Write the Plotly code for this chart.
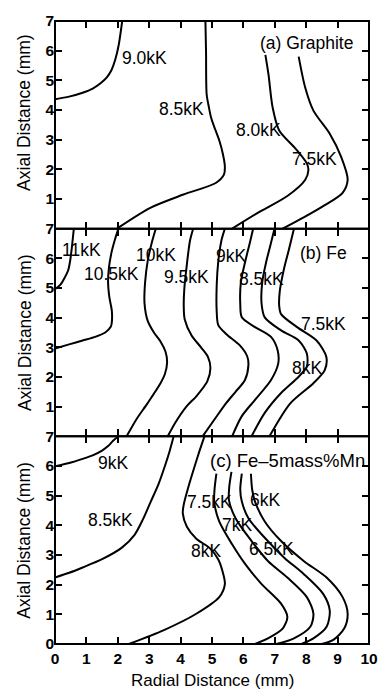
import plotly.graph_objects as go

# ---------------- data: (radial, axial) points along each isotherm ----------------
# Panel (a) Graphite
A_90_R = [0.0, 0.45, 0.88, 1.20, 1.45, 1.65, 1.80, 1.92, 2.03, 2.14]
A_90_Z = [4.36, 4.45, 4.58, 4.72, 4.90, 5.10, 5.35, 5.70, 6.20, 7.00]
A_85_R = [4.79, 4.81, 4.83, 4.90, 4.97, 5.10, 5.23, 5.35, 5.41, 5.38, 5.12, 4.09, 3.05, 1.97]
A_85_Z = [7.00, 6.00, 4.53, 4.10, 3.75, 3.35, 2.98, 2.50, 2.09, 1.82, 1.54, 1.15, 0.71, 0.00]
A_80_R = [6.70, 6.80, 6.93, 7.14, 7.66, 8.02, 8.07, 7.97, 7.40, 6.47, 5.64]
A_80_Z = [5.86, 5.19, 4.09, 3.31, 2.70, 2.20, 1.98, 1.65, 1.10, 0.54, 0.00]
A_75_R = [7.76, 7.97, 8.23, 8.75, 9.11, 9.32, 9.16, 8.54, 7.92, 7.25]
A_75_Z = [5.80, 4.75, 3.98, 3.20, 2.43, 1.65, 1.21, 0.76, 0.38, 0.00]

# Panel (b) Fe
B_110_R = [0.0, 0.18, 0.31, 0.42, 0.48, 0.53, 0.57, 0.60]
B_110_Z = [4.96, 5.12, 5.35, 5.60, 5.90, 6.30, 6.70, 7.00]
B_105_R = [0.0, 0.45, 0.88, 1.30, 1.60, 1.78, 1.81, 1.81, 1.73, 1.69, 1.72, 1.80, 1.90, 2.02]
B_105_Z = [2.96, 3.10, 3.23, 3.36, 3.50, 3.70, 3.85, 4.23, 4.70, 5.20, 5.70, 6.20, 6.60, 7.00]
B_100_R = [3.21, 3.10, 2.95, 2.87, 2.85, 2.95, 3.15, 3.36, 3.52, 3.57, 3.50, 3.36, 2.95, 2.59, 2.28]
B_100_Z = [7.00, 6.60, 5.90, 5.20, 4.50, 3.90, 3.50, 3.20, 2.85, 2.50, 2.10, 1.79, 1.12, 0.57, 0.00]
B_95_R = [4.40, 4.30, 4.20, 4.12, 4.10, 4.13, 4.35, 4.65, 4.87, 4.95, 4.85, 4.50, 4.19, 3.83, 3.59]
B_95_Z = [7.00, 6.60, 5.80, 5.00, 4.40, 3.95, 3.40, 3.00, 2.68, 2.30, 1.85, 1.35, 1.01, 0.46, 0.00]
B_90_R = [5.41, 5.30, 5.20, 5.15, 5.15, 5.20, 5.45, 5.90, 6.12, 6.16, 6.05, 5.75, 5.45, 5.10, 4.70]
B_90_Z = [7.00, 6.60, 5.90, 5.10, 4.20, 3.75, 3.45, 3.05, 2.70, 2.40, 1.90, 1.50, 1.12, 0.60, 0.00]
B_85_R = [6.31, 6.20, 6.06, 5.92, 5.90, 5.95, 6.37, 6.88, 7.09, 7.11, 6.88, 6.37, 5.95, 5.64]
B_85_Z = [7.00, 6.50, 5.90, 5.20, 4.46, 4.01, 3.68, 3.35, 2.90, 2.46, 1.90, 1.23, 0.68, 0.00]
B_80_R = [6.99, 6.85, 6.73, 6.60, 6.58, 6.68, 7.20, 7.76, 8.02, 8.02, 7.76, 7.20, 6.68, 6.26]
B_80_Z = [7.00, 6.40, 5.90, 5.20, 4.46, 4.01, 3.57, 3.23, 2.79, 2.35, 2.01, 1.46, 0.79, 0.00]
B_75_R = [7.61, 7.45, 7.30, 7.16, 7.14, 7.20, 7.71, 8.33, 8.64, 8.59, 8.23, 7.50, 6.83]
B_75_Z = [7.00, 6.30, 5.68, 4.90, 4.40, 4.12, 3.68, 3.23, 2.68, 2.23, 1.79, 1.12, 0.00]

# Panel (c) Fe-5mass%Mn
C_90_R = [0.0, 0.45, 0.88, 1.20, 1.50, 1.70, 1.85, 2.02]
C_90_Z = [5.99, 6.10, 6.24, 6.36, 6.52, 6.68, 6.85, 7.00]
C_85_R = [0.0, 0.45, 0.88, 1.50, 2.12, 2.54, 2.80, 3.05, 3.30, 3.50, 3.65, 3.78]
C_85_Z = [2.24, 2.40, 2.58, 2.86, 3.24, 3.69, 4.20, 4.80, 5.40, 6.00, 6.50, 7.00]
C_80_R = [4.76, 4.60, 4.45, 4.25, 4.10, 4.07, 4.20, 4.50, 4.92, 5.20, 5.33, 5.41, 5.23, 4.50, 3.47, 2.35]
C_80_Z = [7.00, 6.50, 6.00, 5.30, 4.70, 4.40, 3.95, 3.55, 3.24, 2.85, 2.47, 2.02, 1.58, 1.02, 0.47, 0.00]
C_75_R = [5.14, 5.08, 5.07, 5.23, 5.64, 6.06, 6.58, 7.20, 7.40, 7.25, 6.78, 6.37]
C_75_Z = [5.74, 5.20, 4.80, 4.13, 3.36, 2.69, 2.02, 1.36, 0.91, 0.52, 0.19, 0.00]
C_70_R = [5.62, 5.55, 5.54, 5.75, 6.26, 6.78, 7.40, 8.02, 8.23, 8.13, 7.61, 7.05]
C_70_Z = [5.80, 5.30, 4.85, 4.24, 3.47, 2.80, 2.24, 1.58, 1.02, 0.58, 0.19, 0.00]
C_65_R = [5.95, 5.90, 5.95, 6.16, 6.68, 7.30, 7.92, 8.54, 8.75, 8.65, 8.23, 7.85]
C_65_Z = [5.74, 5.20, 4.80, 4.24, 3.58, 2.91, 2.36, 1.69, 1.13, 0.58, 0.19, 0.00]
C_60_R = [6.24, 6.28, 6.37, 6.68, 7.20, 7.92, 8.65, 9.16, 9.32, 9.21, 8.85, 8.49]
C_60_Z = [5.74, 5.20, 4.80, 4.13, 3.47, 2.80, 2.24, 1.58, 1.02, 0.52, 0.13, 0.00]

# Labels: text, radial, axial
A_LABELS = ["9.0kK", "8.5kK", "8.0kK", "7.5kK", "(a) Graphite"]
A_LAB_R = [2.85, 4.04, 6.47, 8.28, 8.02]
A_LAB_Z = [5.75, 4.03, 3.33, 2.34, 6.25]
B_LABELS = ["11kK", "10.5kK", "10kK", "9.5kK", "9kK", "8.5kK", "7.5kK", "8kK", "(b) Fe"]
B_LAB_R = [0.83, 1.81, 3.21, 4.19, 5.59, 6.58, 8.54, 8.02, 8.54]
B_LAB_Z = [6.29, 5.46, 6.12, 5.37, 6.07, 5.29, 3.79, 2.29, 6.18]
C_LABELS = ["9kK", "8.5kK", "(c) Fe\u20135mass%Mn", "7.5kK", "6kK", "7kK", "6.5kK", "8kK"]
C_LAB_R = [1.86, 1.76, 7.40, 4.92, 6.68, 5.80, 6.88, 4.81]
C_LAB_Z = [6.11, 4.19, 6.19, 4.80, 4.86, 4.00, 3.19, 3.13]

X_TICKS = list(range(0, 11))
Y_TICKS_TOP = list(range(1, 8))
Y_TICKS_BOTTOM = list(range(0, 8))

FONT = "Liberation Sans, Arial, Helvetica, sans-serif"
LAB_SIZE = 17.5

fig = go.Figure()

panels = [
    ("x3", "y3", [(A_90_R, A_90_Z), (A_85_R, A_85_Z), (A_80_R, A_80_Z), (A_75_R, A_75_Z)],
     A_LABELS, A_LAB_R, A_LAB_Z),
    ("x2", "y2", [(B_110_R, B_110_Z), (B_105_R, B_105_Z), (B_100_R, B_100_Z), (B_95_R, B_95_Z),
                  (B_90_R, B_90_Z), (B_85_R, B_85_Z), (B_80_R, B_80_Z), (B_75_R, B_75_Z)],
     B_LABELS, B_LAB_R, B_LAB_Z),
    ("x", "y", [(C_90_R, C_90_Z), (C_85_R, C_85_Z), (C_80_R, C_80_Z), (C_75_R, C_75_Z),
                (C_70_R, C_70_Z), (C_65_R, C_65_Z), (C_60_R, C_60_Z)],
     C_LABELS, C_LAB_R, C_LAB_Z),
]

annotations = []
shapes = []
for xa, ya, curves, labs, lr, lz in panels:
    for r, z in curves:
        fig.add_trace(go.Scatter(x=r, y=z, xaxis=xa, yaxis=ya, mode="lines",
                                 line=dict(color="black", width=2, shape="spline", smoothing=0.8),
                                 showlegend=False, hoverinfo="skip"))
    for t, rr, zz in zip(labs, lr, lz):
        size = 18.5 if t.startswith("(c)") else LAB_SIZE
        annotations.append(dict(x=rr, y=zz, xref=xa, yref=ya, text=t, showarrow=False,
                                xanchor="center", yanchor="middle",
                                font=dict(family=FONT, size=size, color="black")))
    # panel frame (centered on the domain edges, so shared borders coincide)
    shapes.append(dict(type="rect", xref=xa + " domain", yref=ya + " domain",
                       x0=0, x1=1, y0=0, y1=1, line=dict(color="black", width=2),
                       fillcolor="rgba(0,0,0,0)", layer="above"))

# y-axis titles per panel
for yref, ypos in [("y3 domain", 0.56), ("y2 domain", 0.5), ("y domain", 0.5)]:
    annotations.append(dict(x=-0.097, xref="paper", y=ypos, yref=yref, text="Axial Distance (mm)",
                            textangle=-90, showarrow=False, xanchor="center", yanchor="middle",
                            font=dict(family=FONT, size=LAB_SIZE, color="black")))
annotations.append(dict(x=0.5, xref="paper", y=-0.059, yref="paper", text="Radial Distance (mm)",
                        showarrow=False, xanchor="center", yanchor="middle",
                        font=dict(family=FONT, size=17, color="black")))

axis_common = dict(showline=False, mirror="ticks",
                   ticks="inside", ticklen=7, tickwidth=1.5, tickcolor="black",
                   showgrid=False, zeroline=False, fixedrange=True)
tickfont = dict(family=FONT, size=15.5, color="black", weight="bold")

C_DOM = [0, 1.0 / 3.0]
B_DOM = [1.0 / 3.0, 2.0 / 3.0]
A_DOM = [2.0 / 3.0, 1]

fig.update_layout(
    width=390, height=689,
    margin=dict(l=55, r=12, t=12, b=45),
    paper_bgcolor="white", plot_bgcolor="white",
    annotations=annotations,
    shapes=shapes,
    xaxis=dict(domain=[0, 1], range=[0, 10], tickvals=X_TICKS, anchor="y",
               tickfont=tickfont, showticklabels=True, ticklabelstandoff=3, **axis_common),
    xaxis2=dict(domain=[0, 1], range=[0, 10], tickvals=X_TICKS, anchor="y2",
                showticklabels=False, matches="x", **axis_common),
    xaxis3=dict(domain=[0, 1], range=[0, 10], tickvals=X_TICKS, anchor="y3",
                showticklabels=False, matches="x", **axis_common),
    yaxis=dict(domain=C_DOM, range=[0, 7], tickvals=Y_TICKS_BOTTOM, anchor="x",
               tickfont=tickfont, **axis_common),
    yaxis2=dict(domain=B_DOM, range=[0, 7], tickvals=Y_TICKS_TOP, anchor="x2",
                tickfont=tickfont, **axis_common),
    yaxis3=dict(domain=A_DOM, range=[0, 7], tickvals=Y_TICKS_TOP, anchor="x3",
                tickfont=tickfont, **axis_common),
)

fig.write_html("out.html")
